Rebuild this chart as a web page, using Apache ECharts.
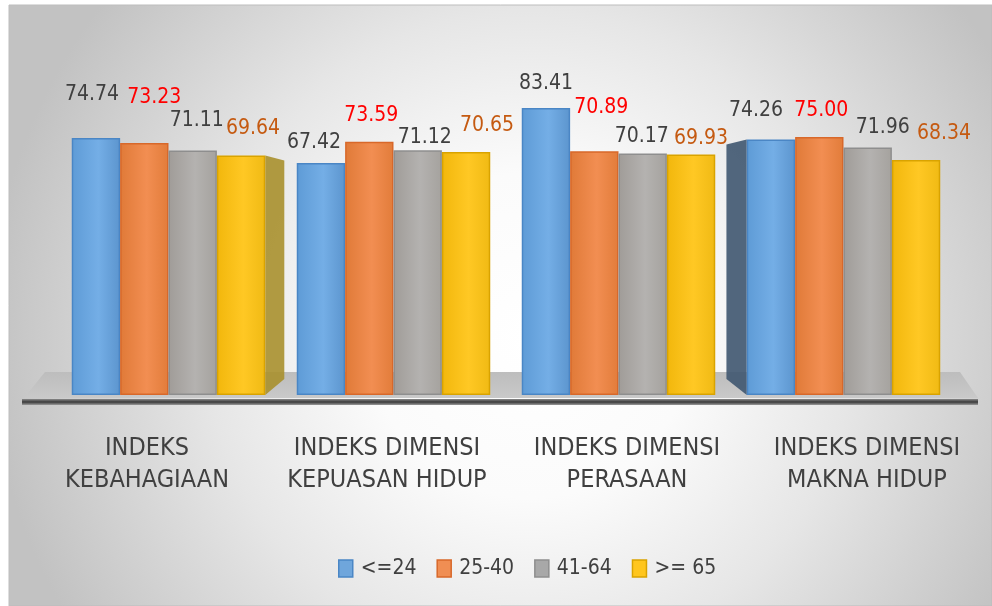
<!DOCTYPE html>
<html>
<head>
<meta charset="utf-8">
<script src="https://cdn.jsdelivr.net/npm/echarts@6/dist/echarts.min.js"></script>
<style>
html,body{margin:0;padding:0;background:#ffffff;}
#chart{width:992px;height:606px;}
</style>
</head>
<body>
<div id="chart"></div>
<script>
// ---- data ----
var categories = ['INDEKS\nKEBAHAGIAAN', 'INDEKS DIMENSI\nKEPUASAN HIDUP', 'INDEKS DIMENSI\nPERASAAN', 'INDEKS DIMENSI\nMAKNA HIDUP'];
var seriesNames = ['<=24', '25-40', '41-64', '>= 65'];
var valuesUpTo24 = [74.74, 67.42, 83.41, 74.26];
var values25to40 = [73.23, 73.59, 70.89, 75.00];
var values41to64 = [71.11, 71.12, 70.17, 71.96];
var values65plus = [69.64, 70.65, 69.93, 68.34];

// ---- styling (not data) ----
var FONT = '"Liberation Sans Narrow", "DejaVu Sans Condensed", "Liberation Sans", sans-serif';
var labelColors = ['#404040', '#FF0000', '#404040', '#C55A11'];
var faceColors = [
  ['#5E9BD6', '#74AEE6', '#5C95CE'],
  ['#E07A38', '#F28E52', '#E27C3A'],
  ['#A09C98', '#B4B2B0', '#A5A29E'],
  ['#F2B70C', '#FFC824', '#F0BA14']
];
var sideColors = ['#3F5770', '#9A5222', '#7E7C78', '#A8902E'];
var borderColors = ['#4A86C5', '#D8682A', '#8E8E8E', '#D9A300'];
var legendFill = ['#6FA6DC', '#F08E53', '#A8A8A8', '#FFC61E'];
// per-label nudges [dx, dy] copied from the reference's manual label placement
var labelShift = [
  [[-4, -31], [-7, -9], [0, -13], [-15, -17]],
  [[10, -34], [2, -14], [7, -32], [2, -14]],
  [[4, -18], [7, -1], [-1, -5], [15, -8]],
  [[12, -15], [21, -14], [10, -4], [28, -14]]
];

var allValues = [valuesUpTo24, values25to40, values41to64, values65plus];

var GRID_LEFT = 56, GRID_WIDTH = 900, GRID_TOP = 51, GRID_HEIGHT = 344;
var CAT_GAP = 0.14;
var VANISH_X = 500;      // perspective centre used for the side faces
var DEPTH_DEAD = 150;    // no visible side face this close to the centre
var DEPTH_K = 0.105;

function makeSeries(idx) {
  var c = faceColors[idx];
  return {
    name: seriesNames[idx],
    type: 'bar',
    xAxisIndex: 0,
    yAxisIndex: 0,
    barGap: '0%',
    barCategoryGap: (CAT_GAP * 100) + '%',
    z: 3,
    itemStyle: {
      color: new echarts.graphic.LinearGradient(0, 0, 1, 0, [
        {offset: 0, color: c[0]},
        {offset: 0.55, color: c[1]},
        {offset: 1, color: c[2]}
      ]),
      borderColor: borderColors[idx],
      borderWidth: 1.5
    },
    data: allValues[idx].map(function (v, j) {
      return {
        value: v,
        label: {offset: labelShift[idx][j]}
      };
    }),
    label: {
      show: true,
      position: 'top',
      distance: 0,
      formatter: function (p) { return p.value.toFixed(2); },
      color: labelColors[idx],
      fontFamily: FONT,
      fontSize: 21,
      lineHeight: 24
    },
    emphasis: {disabled: true}
  };
}

// side faces of the outer bar in each group (3D look), drawn through the axes
var sideData = categories.map(function (c, j) {
  return [j, valuesUpTo24[j], values65plus[j]];
});
var sideSeries = {
  type: 'custom',
  xAxisIndex: 0,
  yAxisIndex: 0,
  z: 2,
  silent: true,
  data: sideData,
  renderItem: function (params, api) {
    var j = api.value(0);
    var centre = api.coord([j, 0]);
    var band = api.size([1, 0])[0];
    var bw = band * (1 - CAT_GAP) / 4;
    var off = VANISH_X - centre[0];
    var mag = Math.max(0, Math.abs(off) - DEPTH_DEAD) * DEPTH_K;
    if (mag < 1) { return null; }
    var useRight = off > 0;
    var d = useRight ? mag : -mag;
    var sIdx = useRight ? 3 : 0;
    var val = useRight ? api.value(2) : api.value(1);
    var top = api.coord([j, val])[1];
    var bottom = centre[1];
    var xNear = useRight ? centre[0] + 2 * bw : centre[0] - 2 * bw;
    var xFar = xNear + d;
    return {
      type: 'polygon',
      shape: {points: [[xNear, top], [xFar, top + 5], [xFar, bottom - 16], [xNear, bottom]]},
      style: {fill: sideColors[sIdx], opacity: 0.9}
    };
  }
};

var chart = echarts.init(document.getElementById('chart'), null, {renderer: 'canvas'});

var option = {
  animation: false,
  backgroundColor: '#ffffff',
  graphic: [
    {
      type: 'rect', z: -100, silent: true,
      shape: {x: 9, y: 5, width: 983, height: 601},
      style: {
        fill: new echarts.graphic.RadialGradient(0.53, 0.55, 0.9, [
          {offset: 0, color: '#ffffff'},
          {offset: 0.3, color: '#fbfbfb'},
          {offset: 0.6, color: '#e6e6e6'},
          {offset: 1, color: '#c2c2c2'}
        ]),
        stroke: '#bdbdbd', lineWidth: 1
      }
    },
    {
      type: 'polygon', z: -50, silent: true,
      shape: {points: [[45, 372], [960, 372], [978, 398], [24, 398]]},
      style: {
        fill: new echarts.graphic.LinearGradient(0, 0, 0, 1, [
          {offset: 0, color: '#bdbdbd'},
          {offset: 1, color: '#c9c9c9'}
        ])
      }
    },
    {
      type: 'rect', z: -50, silent: true,
      shape: {x: 22, y: 399, width: 956, height: 6},
      style: {
        fill: new echarts.graphic.LinearGradient(0, 0, 0, 1, [
          {offset: 0, color: '#8a8a8a'},
          {offset: 0.5, color: '#3a3a3a'},
          {offset: 1, color: '#9a9a9a'}
        ])
      }
    }
  ],
  legend: {
    data: seriesNames.map(function (n, i) {
      return {
        name: n,
        icon: 'rect',
        itemStyle: {color: legendFill[i], borderColor: borderColors[i], borderWidth: 1.5}
      };
    }),
    left: 333,
    top: 553,
    itemWidth: 14,
    itemHeight: 17,
    itemGap: 20,
    textStyle: {fontFamily: FONT, fontSize: 21, color: '#404040', padding: [0, 0, 0, 3]}
  },
  grid: [
    {left: GRID_LEFT, top: GRID_TOP, width: GRID_WIDTH, height: GRID_HEIGHT, containLabel: false},
    {left: 27, top: 400, width: 960, height: 1, containLabel: false}
  ],
  xAxis: [
    {
      type: 'category', gridIndex: 0, data: categories,
      axisLine: {show: false}, axisTick: {show: false}, axisLabel: {show: false}, splitLine: {show: false}
    },
    {
      type: 'category', gridIndex: 1, data: categories,
      axisLine: {show: false}, axisTick: {show: false}, splitLine: {show: false},
      axisLabel: {
        show: true, margin: 31, interval: 0,
        fontFamily: FONT, fontSize: 25, lineHeight: 32, color: '#404040', align: 'center'
      }
    }
  ],
  yAxis: [
    {type: 'value', gridIndex: 0, min: 0, max: 100, show: false, splitLine: {show: false}},
    {type: 'value', gridIndex: 1, min: 0, max: 1, show: false, splitLine: {show: false}}
  ],
  series: [makeSeries(0), makeSeries(1), makeSeries(2), makeSeries(3), sideSeries]
};

chart.setOption(option);
</script>
</body>
</html>
